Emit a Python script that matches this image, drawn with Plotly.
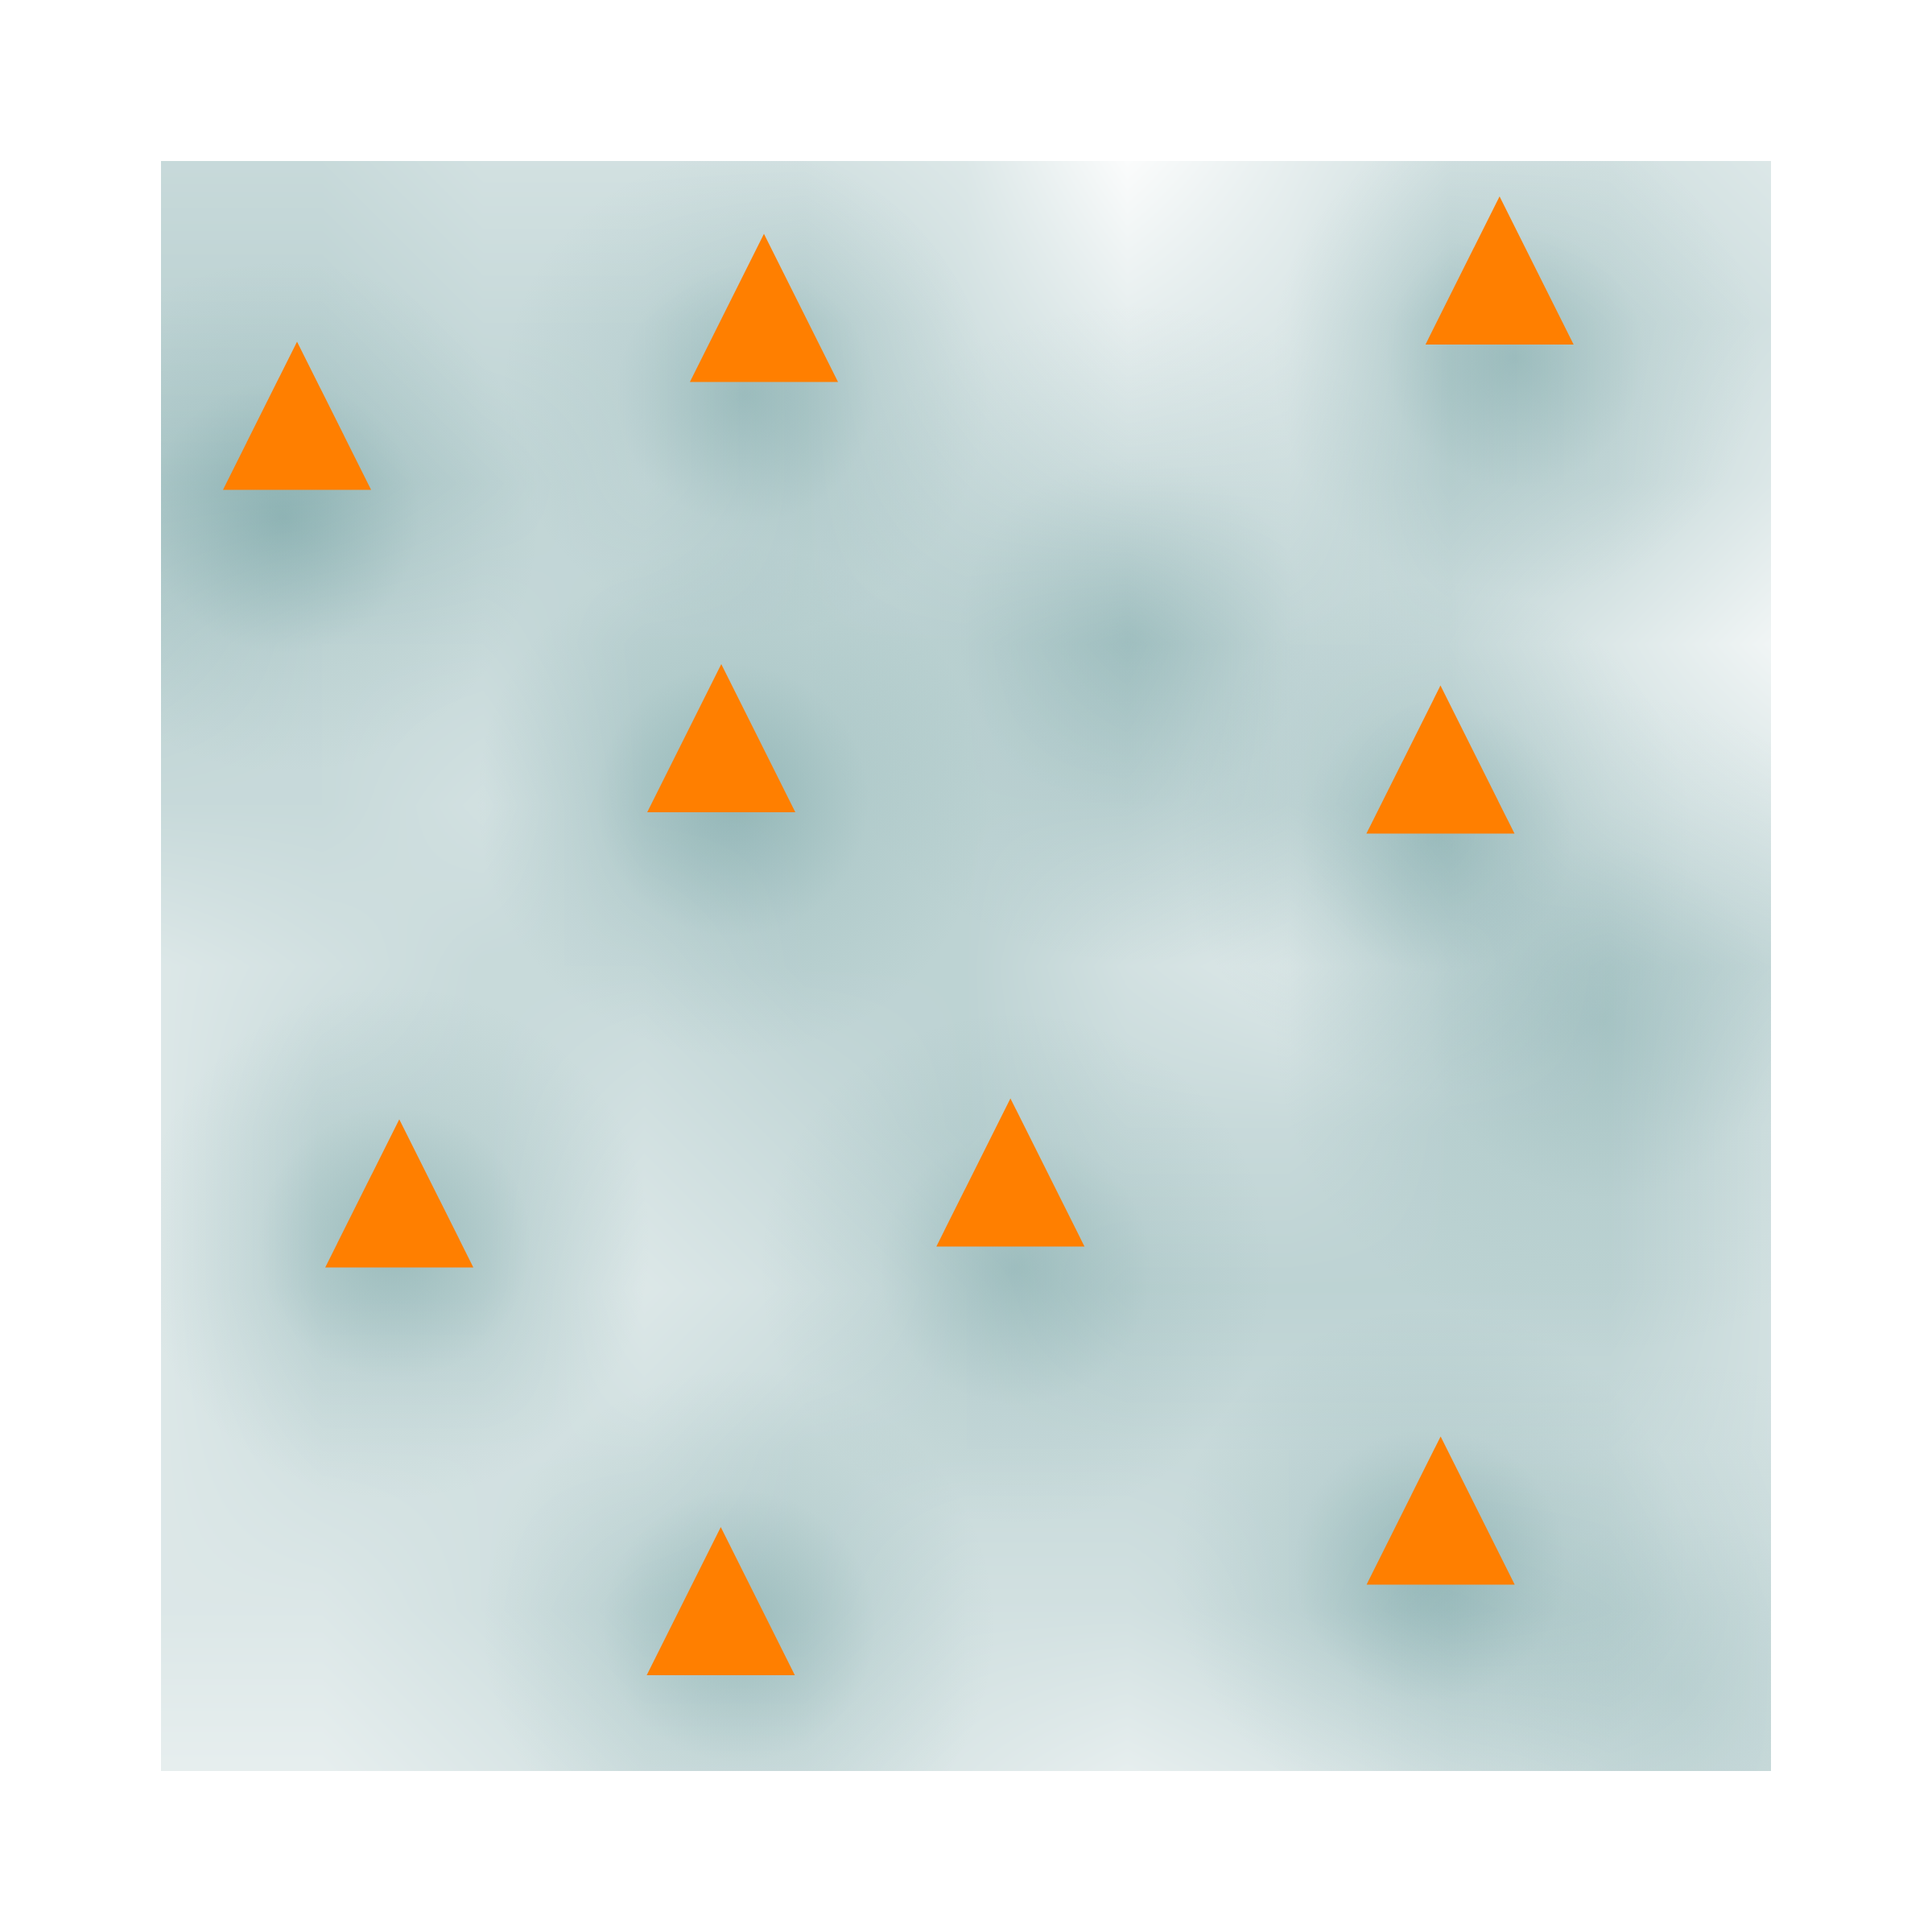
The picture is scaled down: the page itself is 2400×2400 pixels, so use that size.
import plotly.graph_objects as go

# ── data ────────────────────────────────────────────────
# orange triangle markers (centre of each triangle)
tri_x = [0.845, 3.745, 8.314, 3.48, 7.947, 1.48, 5.276, 7.948, 3.477]
tri_y = [8.418, 9.087, 9.320, 6.415, 6.282, 3.588, 3.718, 1.618, 1.055]

# background shade (0 = white … 5 = darkest), read on a 1-unit grid, top row first
shade_x = [0, 1, 2, 3, 4, 5, 6, 7, 8, 9, 10]
shade_y = [10, 9, 8, 7, 6, 5, 4, 3, 2, 1, 0]
shade_rows = [
    [2.5, 2.5, 2.0, 2.0, 2.0, 1.5, 0.0, 1.0, 2.0, 2.0, 1.5],
    [3.0, 3.0, 2.5, 2.5, 3.0, 2.0, 1.0, 1.5, 3.0, 2.5, 2.0],
    [3.5, 3.5, 3.0, 2.5, 3.0, 2.5, 2.0, 2.0, 3.0, 2.5, 1.5],
    [3.0, 2.5, 2.5, 3.0, 3.0, 3.0, 3.5, 2.5, 2.5, 1.5, 0.5],
    [2.5, 2.5, 2.0, 3.0, 3.0, 3.0, 3.0, 2.5, 3.0, 2.0, 1.5],
    [1.5, 2.0, 2.5, 2.5, 3.0, 3.0, 2.0, 1.5, 2.5, 3.0, 2.5],
    [1.5, 2.5, 2.5, 2.0, 2.5, 3.0, 2.5, 2.5, 3.0, 3.0, 2.0],
    [1.5, 2.5, 2.5, 1.5, 2.0, 2.5, 3.0, 3.0, 3.0, 3.0, 2.0],
    [1.5, 2.0, 2.0, 2.0, 2.5, 2.5, 2.5, 2.5, 2.5, 2.5, 2.0],
    [1.5, 1.5, 2.0, 2.5, 2.5, 2.0, 2.0, 2.5, 3.0, 2.8, 2.2],
    [1.0, 1.0, 1.5, 2.0, 2.0, 1.5, 1.0, 1.5, 2.0, 2.3, 2.2],
]

# darker glow cores
glow_x      = [0.76, 3.63, 8.41, 3.55, 6.04, 7.92, 8.95, 1.45, 5.31, 7.88, 3.59, 9.41]
glow_y      = [7.79, 8.55, 8.78, 6.03, 7.06, 5.80, 4.65, 3.28, 3.12, 1.28, 0.90, 0.52]
glow_weight = [1.00, 0.85, 0.85, 1.00, 0.50, 0.80, 0.55, 1.00, 0.85, 1.00, 1.00, 0.35]
glow_spread = [1.00, 0.95, 0.95, 1.00, 1.30, 1.00, 1.30, 1.00, 1.00, 1.00, 1.00, 1.30]

# ── style ───────────────────────────────────────────────
TEAL = (58, 122, 124)
ORANGE = '#ff7f00'
TRI_SIZE = 184
SHADE_ALPHA = (0.02, 0.545)          # alpha of teal over white at shade 0 and 5
# (diameter in px per unit spread, peak alpha per unit weight)
GLOW_LAYERS = [(640, 0.24), (340, 0.26)]


def rgba(c, a):
    return f'rgba({c[0]},{c[1]},{c[2]},{a:.3f})'


def over_white(c, a):
    r, g, b = (round(255 - a * (255 - v)) for v in c)
    return f'rgb({r},{g},{b})'


fig = go.Figure()

fig.add_trace(go.Heatmap(
    x=shade_x, y=shade_y[::-1], z=shade_rows[::-1],
    zmin=0, zmax=5, zsmooth='best',
    colorscale=[[0, over_white(TEAL, SHADE_ALPHA[0])],
                [1, over_white(TEAL, SHADE_ALPHA[1])]],
    showscale=False, hoverinfo='skip',
))

for diam, alpha in GLOW_LAYERS:
    fig.add_trace(go.Scatter(
        x=glow_x, y=glow_y,
        mode='markers',
        hoverinfo='skip',
        marker=dict(
            symbol='circle',
            size=[diam * s for s in glow_spread],
            color=rgba(TEAL, 0),
            gradient=dict(type='radial',
                          color=[rgba(TEAL, alpha * w) for w in glow_weight]),
            line=dict(width=0),
        ),
    ))

# arrow-down turned 180° and pushed back by half its size -> centred up-triangle
fig.add_trace(go.Scatter(
    x=tri_x, y=tri_y,
    mode='markers',
    marker=dict(
        symbol='arrow-down',
        angle=180,
        standoff=TRI_SIZE / 2,
        size=TRI_SIZE,
        color=ORANGE,
        line=dict(width=0),
    ),
))

# page body adds 8px, so shift the plot area back by that much
fig.update_layout(
    width=2400, height=2400,
    margin=dict(l=192, r=208, t=192, b=208),
    paper_bgcolor='white',
    plot_bgcolor='white',
    showlegend=False,
)
fig.update_xaxes(range=[0, 10], showgrid=False, zeroline=False,
                 showticklabels=False, showline=False)
fig.update_yaxes(range=[0, 10], showgrid=False, zeroline=False,
                 showticklabels=False, showline=False)

fig.write_html('out.html')
